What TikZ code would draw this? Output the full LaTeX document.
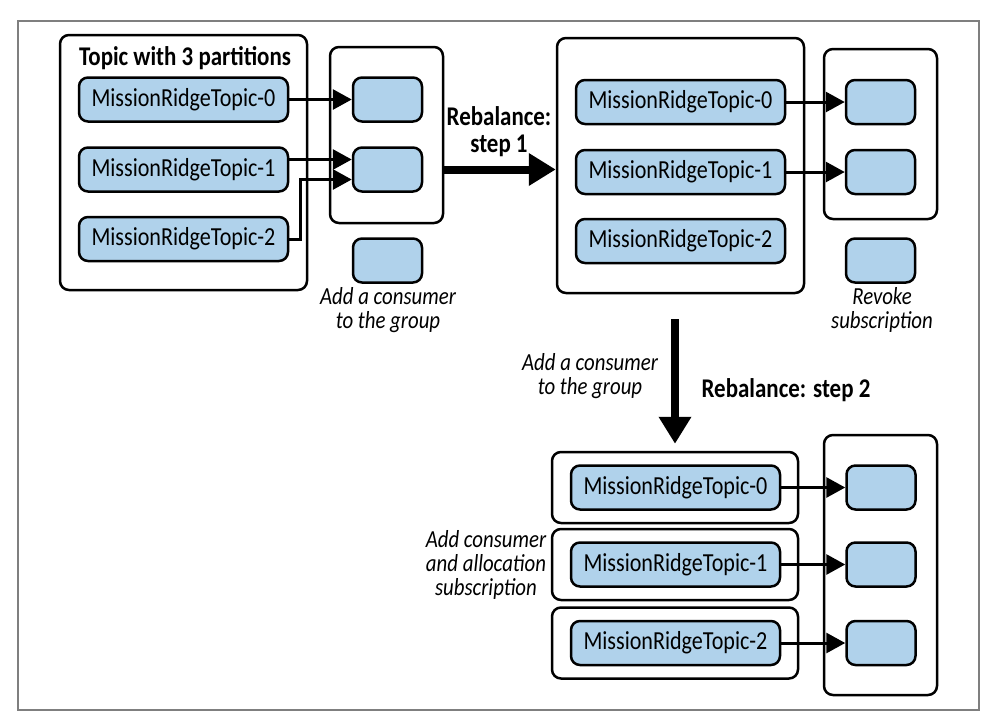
\documentclass[tikz,border=0pt]{standalone}
\usepackage{fontspec}
\setmainfont{Carlito}[FakeStretch=0.85]
\usepackage{tikz}
\usetikzlibrary{arrows.meta, calc}
\definecolor{partblue}{HTML}{B0D2EB}
\definecolor{framegray}{HTML}{7F7F7F}
\tikzset{
  partbox/.style={draw, line width=2.5pt, rounded corners=9pt, fill=partblue, minimum width=209pt, minimum height=44pt, inner sep=0pt, font=\fontsize{26}{28}\selectfont},
  consbox/.style={draw, line width=2.5pt, rounded corners=9pt, fill=partblue, minimum width=69pt, minimum height=44pt},
  groupbox/.style={draw, line width=2.5pt, rounded corners=9pt, inner sep=0pt},
  feed/.style={line width=3pt, -{Triangle[length=19pt,width=20pt]}},
  rebal/.style={line width=8pt, -{Triangle[length=27pt,width=31pt]}},
  note/.style={align=center, font=\itshape\fontsize{24.5}{24}\selectfont},
  head/.style={align=center, font=\bfseries\fontsize{27}{27}\selectfont}
}
\begin{document}
\begin{tikzpicture}[x=1pt, y=-1pt]
    \useasboundingbox (0,0) rectangle (996,724);
    \draw[framegray, line width=1.5pt] (18,21) rectangle (979,710);

    \node[groupbox, minimum width=247pt, minimum height=255pt] (topic) at (183.5,162.5) {};
    \node[head] (title) at (185,58) {Topic with 3 partitions};
    \foreach \i/\y in {0/99.5, 1/169.5, 2/239} \node[partbox] (p\i) at (183.5,\y) {MissionRidgeTopic-\i};
    \node[groupbox, minimum width=113pt, minimum height=176pt] (g1) at (386.5,135) {};
    \foreach \i/\y in {0/99.5, 1/169.5} \node[consbox] (c\i) at (387.5,\y) {};
    \node[consbox] (cnew) at (387.5,260.5) {};
    \node[note] (addc) at (388,310) {Add a consumer\\to the group};
    \draw[feed] (p0.east) -- (c0.west);
    \draw[feed] ([yshift=10pt]p1.east) -- ([yshift=10pt]c1.west);
    \draw[feed] (p2.east) -- ++(11,0) |- ([yshift=-10pt]c1.west);

    \node[groupbox, minimum width=247pt, minimum height=255pt] (s2) at (680.5,165.5) {};
    \foreach \i/\y in {0/102, 1/172, 2/241} \node[partbox] (q\i) at (680.5,\y) {MissionRidgeTopic-\i};
    \node[groupbox, minimum width=113pt, minimum height=170pt] (g2) at (880.5,134) {};
    \foreach \i/\y in {0/102, 1/172} \node[consbox] (d\i) at (880.5,\y) {};
    \node[consbox] (drev) at (880.5,260.5) {};
    \node[note] (revoke) at (882,310) {Revoke\\subscription};
    \foreach \i in {0,1} \draw[feed] (q\i) -- (d\i);

    \draw[rebal] (g1.east |- c1) -- (s2.west |- c1);
    \node[head] (reb1) at (499,132) {Rebalance:\\step 1};

    \node[groupbox, minimum width=113pt, minimum height=260pt] (g3) at (880.5,565) {};
    \foreach \i/\y in {0/487.5, 1/564.5, 2/643} {
        \node[groupbox, minimum width=246pt, minimum height=71pt] (l\i) at (675,\y) {};
        \node[partbox] (r\i) at (675.5,\y) {MissionRidgeTopic-\i};
        \node[consbox] (e\i) at (881,\y) {};
        \draw[feed] (r\i) -- (e\i);
    }
    \draw[rebal] ($(s2.south -| l0.north)+(0,25)$) -- ($(l0.north)+(0,-7)$);
    \node[note] (addc2) at (590,376) {Add a consumer\\to the group};
    \node[head] (reb2) at (786,390) {Rebalance: step 2};
    \node[note] (alloc) at (486,565) {Add consumer\\and allocation\\subscription};
\end{tikzpicture}
\end{document}
